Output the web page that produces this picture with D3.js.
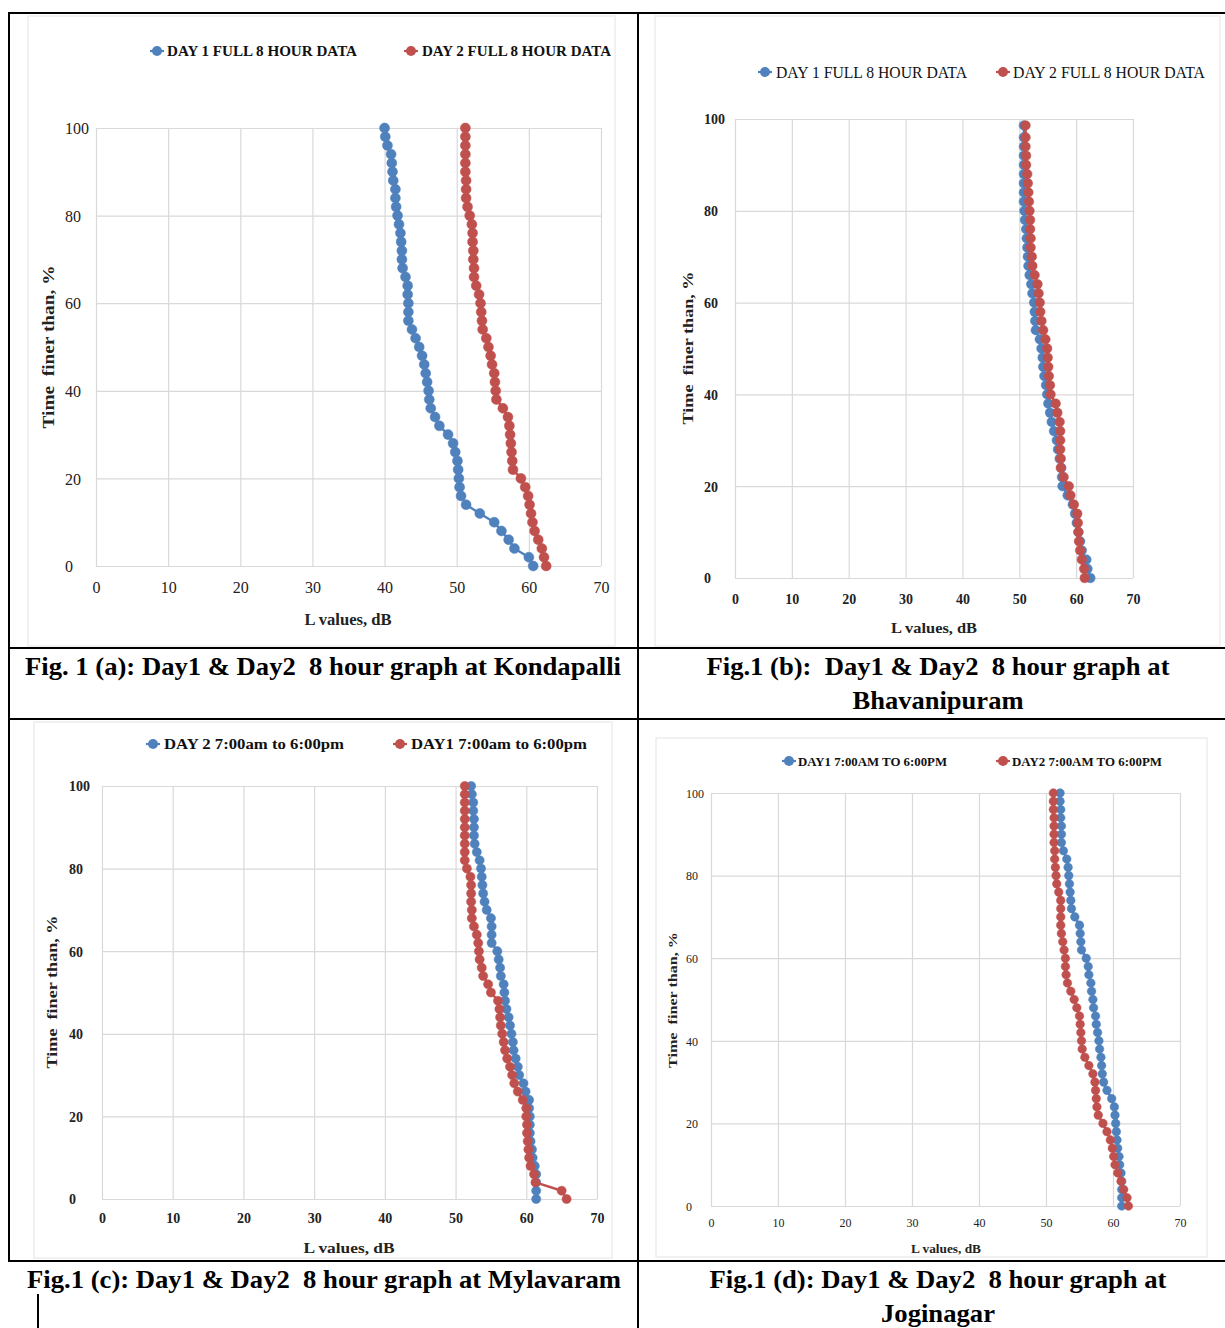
<!DOCTYPE html>
<html><head><meta charset="utf-8">
<script src="https://cdn.jsdelivr.net/npm/d3@7/dist/d3.min.js"></script>
<style>body{margin:0;background:#fff}svg{display:block}</style>
</head><body>
<svg id="chart" width="1225" height="1328"></svg>
<script>
// ---------------- DATA ----------------
const xTicks = [0, 10, 20, 30, 40, 50, 60, 70];
const yTicks = [0, 20, 40, 60, 80, 100];
const pctLevels = [0,2,4,6,8,10,12,14,16,18,20,22,24,26,28,30,32,34,36,38,40,42,44,46,48,50,52,54,56,58,60,62,64,66,68,70,72,74,76,78,80,82,84,86,88,90,92,94,96,98,100];
const pctLevelsB = [0,2,4,6,8,10,12,14,16,18,20,22,24,26,28,30,32,34,36,38,40,42,44,46,48,50,52,54,56,58,60,62,64,66,68,70,72,74,76,78,80,82,84,86,88,90,92,94,96,98.6];

const kondapalliDay1 = [60.6,60.0,58.0,57.2,56.2,55.2,53.2,51.3,50.6,50.4,50.3,50.2,50.1,49.8,49.5,48.8,47.6,47.0,46.4,46.2,46.1,45.9,45.7,45.5,45.2,44.8,44.3,43.8,43.3,43.3,43.3,43.2,43.2,42.9,42.5,42.4,42.4,42.3,42.2,42.0,41.8,41.6,41.5,41.5,41.2,41.1,41.0,40.9,40.4,40.1,40.0];
const kondapalliDay2 = [62.4,62.1,61.8,61.3,60.8,60.5,60.3,60.1,59.9,59.5,58.9,57.8,57.7,57.6,57.5,57.4,57.3,57.1,56.4,55.5,55.4,55.3,55.2,54.9,54.7,54.4,54.1,53.6,53.5,53.4,53.3,53.1,52.7,52.4,52.4,52.3,52.3,52.2,52.2,52.1,51.8,51.5,51.3,51.3,51.3,51.2,51.2,51.2,51.2,51.2,51.2];

const bhavanipuramDay1 = [62.5,62.0,61.8,61.0,60.7,60.4,60.1,59.8,59.4,58.5,57.6,57.5,57.4,57.1,56.8,56.6,56.1,55.7,55.4,55.1,54.9,54.7,54.4,54.2,54.1,53.9,53.6,52.9,52.8,52.7,52.6,52.3,52.1,51.8,51.6,51.5,51.4,51.3,51.2,51.0,50.9,50.8,50.8,50.8,50.8,50.8,50.8,50.8,50.8,50.8];
const bhavanipuramDay2 = [61.5,61.4,61.0,60.7,60.5,60.4,60.3,60.2,59.6,59.0,58.7,57.8,57.3,57.3,57.2,57.2,57.2,57.1,56.7,56.4,55.5,55.4,55.2,55.1,55.0,54.9,54.6,54.2,53.9,53.7,53.6,53.4,53.2,52.7,52.3,52.2,52.0,52.0,51.9,51.9,51.8,51.7,51.6,51.5,51.4,51.2,51.2,51.1,51.1,51.1];

const mylavaramDay2 = [61.4,61.4,61.4,61.4,61.2,60.9,60.8,60.6,60.5,60.5,60.5,60.4,60.4,59.9,59.6,59.0,58.8,58.5,58.2,58.1,57.9,57.7,57.5,57.2,57.0,56.9,56.8,56.4,56.3,56.1,55.9,55.1,55.1,55.1,55.0,54.4,54.1,53.9,53.8,53.7,53.6,53.4,53.0,52.7,52.6,52.6,52.6,52.5,52.5,52.3,52.2];
const mylavaramDay1 = [65.7,65.0,61.3,61.1,60.6,60.4,60.3,60.2,60.1,60.1,60.0,60.0,59.5,58.8,58.3,58.0,57.7,57.3,57.0,56.8,56.6,56.4,56.3,56.2,56.0,55.0,54.6,53.9,53.7,53.4,53.3,53.2,53.0,52.6,52.3,52.3,52.2,52.2,52.2,52.1,51.6,51.3,51.3,51.3,51.3,51.3,51.3,51.3,51.3,51.3,51.3];

const joginagarDay1 = [61.3,61.3,61.3,61.3,61.2,61.0,60.9,60.7,60.6,60.5,60.4,60.3,60.2,59.8,59.1,58.6,58.4,58.3,58.2,58.0,57.9,57.7,57.5,57.4,57.1,57.0,56.8,56.7,56.4,56.3,56.0,55.3,55.2,55.1,55.0,54.3,53.8,53.7,53.6,53.5,53.4,53.3,53.1,52.6,52.3,52.3,52.3,52.2,52.2,52.1,52.1];
const joginagarDay2 = [62.3,62.1,61.6,61.2,60.7,60.3,60.1,59.9,59.6,59.1,58.5,57.8,57.6,57.5,57.4,57.3,57.0,56.4,55.8,55.4,55.3,55.2,55.1,55.0,54.6,54.2,53.7,53.2,53.0,52.9,52.9,52.7,52.5,52.3,52.2,52.2,52.2,52.2,51.9,51.6,51.5,51.4,51.3,51.3,51.2,51.2,51.2,51.2,51.1,51.1,51.1];

const legendA = ["DAY 1 FULL 8 HOUR DATA", "DAY 2 FULL 8 HOUR DATA"];
const legendB = ["DAY 1 FULL 8 HOUR DATA", "DAY 2 FULL 8 HOUR DATA"];
const legendC = ["DAY 2 7:00am to 6:00pm", "DAY1 7:00am to 6:00pm"];
const legendD = ["DAY1 7:00AM TO 6:00PM", "DAY2 7:00AM TO 6:00PM"];
const xTitle = "L values, dB";
const yTitle = "Time  finer than, %";
const captionA = ["Fig. 1 (a): Day1 & Day2  8 hour graph at Kondapalli"];
const captionB = ["Fig.1 (b):  Day1 & Day2  8 hour graph at", "Bhavanipuram"];
const captionC = ["Fig.1 (c): Day1 & Day2  8 hour graph at Mylavaram"];
const captionD = ["Fig.1 (d): Day1 & Day2  8 hour graph at", "Joginagar"];

// ---------------- RENDER ----------------
const BLUE = "#4F81BD", RED = "#C0504D";
const FONT = "'Liberation Serif','Times New Roman',serif";
const svg = d3.select("#chart");
svg.append("rect").attr("width",1225).attr("height",1328).attr("fill","#fff");

function zip(pcts, vals){ return vals.map((v,i)=>({L:v, p:pcts[i]})); }

const panels = [
  { area:[28,16,615,646], plot:[96,601,128,566], r:5.0,
    series:[{d:zip(pctLevels,kondapalliDay1),c:BLUE},{d:zip(pctLevels,kondapalliDay2),c:RED}],
    legend:legendA, legY:51, leg:[[157,167,190],[411,422,189]], legFont:15, legBold:true,
    tickFont:16, tickBold:false, yLabX:65, xLabY:587,
    xt:[348,619,87,16,true], yt:[48,347,163,16,true] },
  { area:[655,16,1220,646], plot:[735,1133,119,578], r:4.8,
    series:[{d:zip(pctLevelsB,bhavanipuramDay1),c:BLUE},{d:zip(pctLevelsB,bhavanipuramDay2),c:RED}],
    legend:legendB, legY:72, leg:[[765,776,191],[1003,1013,192]], legFont:16, legBold:false,
    tickFont:14, tickBold:true, yLabX:704, xLabY:599,
    xt:[934,628,86,15,true], yt:[688,348,153,15,true] },
  { area:[34,722,612,1258], plot:[102,597,786,1199], r:4.6,
    series:[{d:zip(pctLevels,mylavaramDay2),c:BLUE},{d:zip(pctLevels,mylavaramDay1),c:RED}],
    legend:legendC, legY:744, leg:[[153,164,180],[400,411,176]], legFont:15, legBold:true,
    tickFont:14, tickBold:true, yLabX:69, xLabY:1218,
    xt:[349,1248,91,15,true], yt:[52,992,153,15,true] },
  { area:[656,738,1207,1257], plot:[711,1180,793,1206], r:4.3,
    series:[{d:zip(pctLevels,joginagarDay1),c:BLUE},{d:zip(pctLevels,joginagarDay2),c:RED}],
    legend:legendD, legY:761, leg:[[789,798,149],[1003,1012,150]], legFont:13, legBold:true,
    tickFont:12, tickBold:false, yLabX:686, xLabY:1223,
    xt:[946,1249,70,12,true], yt:[673,1000,136,12,true] }
];

function drawPanel(p){
  const g = svg.append("g");
  g.append("rect").attr("x",p.area[0]).attr("y",p.area[1])
    .attr("width",p.area[2]-p.area[0]).attr("height",p.area[3]-p.area[1])
    .attr("fill","#fff").attr("stroke","#e4e4e4").attr("stroke-width",1);
  const x = d3.scaleLinear().domain([0,70]).range([p.plot[0],p.plot[1]]);
  const y = d3.scaleLinear().domain([0,100]).range([p.plot[3],p.plot[2]]);
  const W = p.plot[1]-p.plot[0], H = p.plot[3]-p.plot[2];

  const gx = g.append("g").attr("transform",`translate(0,${p.plot[3]})`)
    .call(d3.axisBottom(x).tickValues(xTicks).tickSize(-H).tickFormat(""));
  gx.select(".domain").remove();
  gx.selectAll("line").attr("stroke","#d9d9d9").attr("stroke-width",1.2);
  const gy = g.append("g").attr("transform",`translate(${p.plot[0]},0)`)
    .call(d3.axisLeft(y).tickValues(yTicks).tickSize(-W).tickFormat(""));
  gy.select(".domain").remove();
  gy.selectAll("line").attr("stroke","#d9d9d9").attr("stroke-width",1.2);

  const lx = g.append("g").attr("transform",`translate(0,${p.xLabY})`)
    .call(d3.axisBottom(x).tickValues(xTicks).tickSize(0).tickPadding(0).tickFormat(d3.format("d")));
  lx.select(".domain").remove();
  lx.selectAll("text").attr("dy","0.35em").attr("y",0)
    .attr("font-family",FONT).attr("font-size",p.tickFont)
    .attr("font-weight",p.tickBold?"bold":"normal").attr("fill","#222");
  const ly = g.append("g").attr("transform",`translate(${p.yLabX},0)`)
    .call(d3.axisLeft(y).tickValues(yTicks).tickSize(0).tickPadding(0).tickFormat(d3.format("d")));
  ly.select(".domain").remove();
  ly.selectAll("text").attr("x",0).attr("text-anchor","start").attr("dy","0.35em")
    .attr("font-family",FONT).attr("font-size",p.tickFont)
    .attr("font-weight",p.tickBold?"bold":"normal").attr("fill","#222");

  g.append("text").attr("x",p.xt[0]).attr("y",p.xt[1]).attr("dy","0.35em")
    .attr("text-anchor","middle").attr("font-family",FONT).attr("font-size",p.xt[3])
    .attr("font-weight","bold").attr("fill","#222")
    .attr("textLength",p.xt[2]).attr("lengthAdjust","spacingAndGlyphs").text(xTitle);
  g.append("text").attr("transform",`translate(${p.yt[0]},${p.yt[1]}) rotate(-90)`)
    .attr("dy","0.35em").attr("text-anchor","middle").attr("font-family",FONT)
    .attr("font-size",p.yt[3]).attr("font-weight","bold").attr("fill","#222")
    .style("white-space","pre")
    .attr("textLength",p.yt[2]).attr("lengthAdjust","spacingAndGlyphs").text(yTitle);

  const line = d3.line().x(d=>x(d.L)).y(d=>y(d.p));
  p.series.forEach(s=>{
    const sg = g.append("g");
    sg.append("path").datum(s.d).attr("d",line).attr("fill","none")
      .attr("stroke",s.c).attr("stroke-width",2.4).attr("stroke-linejoin","round");
    sg.selectAll("circle").data(s.d).join("circle")
      .attr("cx",d=>x(d.L)).attr("cy",d=>y(d.p)).attr("r",p.r)
      .attr("fill",s.c).attr("stroke",s.c).attr("stroke-width",0.5);
  });

  p.legend.forEach((lab,i)=>{
    const [mx,tx,tl] = p.leg[i];
    const c = p.series[i].c;
    g.append("line").attr("x1",mx-7).attr("x2",mx+7).attr("y1",p.legY).attr("y2",p.legY)
      .attr("stroke",c).attr("stroke-width",2.2);
    g.append("circle").attr("cx",mx).attr("cy",p.legY).attr("r",5).attr("fill",c);
    g.append("text").attr("x",tx).attr("y",p.legY).attr("dy","0.35em")
      .attr("font-family",FONT).attr("font-size",p.legFont)
      .attr("font-weight",p.legBold?"bold":"normal").attr("fill","#111")
      .attr("textLength",tl).attr("lengthAdjust","spacingAndGlyphs").text(lab);
  });
}
panels.forEach(drawPanel);

const rules = [
  [9,13,1225,13],[9,12,9,1262],[638,12,638,1328],
  [9,648,1225,648],[9,719,1225,719],[9,1261,1225,1261],[38,1294,38,1328]
];
svg.append("g").selectAll("line").data(rules).join("line")
  .attr("x1",d=>d[0]).attr("y1",d=>d[1]).attr("x2",d=>d[2]).attr("y2",d=>d[3])
  .attr("stroke","#000").attr("stroke-width",2);

const caps = [
  {lines:captionA, cx:323, ys:[666], lens:[596]},
  {lines:captionB, cx:938, ys:[666,700], lens:[463,171]},
  {lines:captionC, cx:324, ys:[1279], lens:[594]},
  {lines:captionD, cx:938, ys:[1279,1313], lens:[457,114]}
];
caps.forEach(c=>{
  c.lines.forEach((t,i)=>{
    svg.append("text").attr("x",c.cx-c.lens[i]/2).attr("y",c.ys[i]).attr("dy","0.35em")
      .attr("font-family",FONT).attr("font-size",25).attr("font-weight","bold")
      .attr("fill","#000").style("white-space","pre")
      .attr("textLength",c.lens[i]).attr("lengthAdjust","spacingAndGlyphs").text(t);
  });
});
</script>
</body></html>
